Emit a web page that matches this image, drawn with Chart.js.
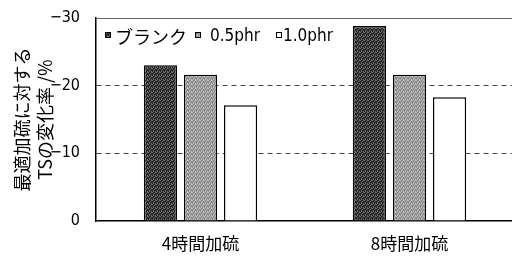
<!DOCTYPE html>
<html><head><meta charset="utf-8">
<script src="https://cdn.jsdelivr.net/npm/chart.js@4"></script>
<style>html,body{margin:0;padding:0;background:#fff;overflow:hidden;width:512px;height:259px}
#wrap{width:516px;height:259px;position:relative}</style>
</head><body><div id="wrap"><canvas id="c" width="516" height="259"></canvas></div>
<script>
const categories = ['4時間加硫', '8時間加硫'];
const seriesNames = ['ブランク', '0.5phr', '1.0phr'];
const blank = [-23.0, -28.8];
const phr05 = [-21.6, -21.6];
const phr10 = [-17.1, -18.3];
const yTickValues = [0, -10, -20, -30];
const yTickLabels = ['0', '−10', '−20', '−30'];
const yTitle = ['最適加硫に対する', 'TSの変化率 /%'];

const jp = "'Noto Sans CJK JP', 'DejaVu Sans', sans-serif";
const narrow = "'Liberation Sans Narrow', 'DejaVu Sans Condensed', sans-serif";

// fixed 4x4 halftone-like texture (style only)
function texture(a, b) {
  const cv = document.createElement('canvas');
  cv.width = 4; cv.height = 4;
  const g = cv.getContext('2d');
  g.fillStyle = a; g.fillRect(0, 0, 4, 4);
  g.fillStyle = b;
  [[0,0],[2,1],[1,2],[3,3],[3,0],[1,3]].forEach(p => g.fillRect(p[0], p[1], 1, 1));
  return g.createPattern(cv, 'repeat');
}
const fills = [texture('#262626', '#6a6a6a'), texture('#8c8c8c', '#c0c0c0'), '#ffffff'];

const labelFor = v => {
  const i = yTickValues.findIndex(t => Math.abs(t - v) < 1e-6);
  return i >= 0 ? yTickLabels[i] : '';
};

const legendPlugin = {
  id: 'inlegend',
  afterDraw(chart) {
    const ctx = chart.ctx;
    const y = 37;
    const pos = [[105, 115, '18px ' + jp], [195, 210, '17px ' + narrow], [276, 283, '17px ' + narrow]];
    ctx.save();
    chart.data.datasets.forEach((ds, i) => {
      const [bx, tx, f] = pos[i];
      ctx.fillStyle = ds.backgroundColor;
      ctx.fillRect(bx, y - 5, 6, 6);
      ctx.strokeStyle = '#000';
      ctx.lineWidth = 1;
      ctx.strokeRect(bx + 0.5, y - 4.5, 5, 5);
      ctx.fillStyle = '#000';
      ctx.font = f;
      ctx.textBaseline = 'middle';
      ctx.fillText(ds.label, tx, y);
    });
    const a = chart.chartArea;
    ctx.strokeStyle = '#666';
    ctx.lineWidth = 1;
    ctx.beginPath();
    ctx.moveTo(a.left, a.top + 0.5);
    ctx.lineTo(a.right, a.top + 0.5);
    ctx.stroke();
    ctx.restore();
  }
};

new Chart(document.getElementById('c'), {
  type: 'bar',
  data: {
    labels: categories,
    datasets: [blank, phr05, phr10].map((d, i) => ({
      label: seriesNames[i],
      data: d,
      backgroundColor: fills[i],
      borderColor: '#000',
      borderWidth: 1.5,
      borderSkipped: 'bottom',
      categoryPercentage: 0.575,
      barPercentage: 0.83
    }))
  },
  options: {
    responsive: false,
    animation: false,
    devicePixelRatio: 1,
    layout: {padding: {top: 18, right: 2, left: 0, bottom: 0}},
    plugins: {legend: {display: false}, tooltip: {enabled: false}},
    scales: {
      x: {
        grid: {display: false, drawTicks: false},
        border: {color: '#000', width: 1.5},
        ticks: {color: '#000', font: {family: jp, size: 17}, padding: 12},
        afterFit(s) { s.height = 38; s.paddingLeft = 0; s.paddingRight = 0; }
      },
      y: {
        reverse: true,
        min: -30, max: 0,
        afterBuildTicks(s) { s.ticks = yTickValues.map(v => ({value: v})); },
        ticks: {
          color: '#000', padding: 16,
          font: {family: "'DejaVu Sans Condensed', sans-serif", size: 16},
          callback: v => labelFor(v)
        },
        grid: {
          drawTicks: false,
          color: c => (c.tick && (c.tick.value === -10 || c.tick.value === -20)) ? '#444' : 'rgba(0,0,0,0)',
          lineWidth: 1
        },
        border: {color: '#000', width: 1.5, dash: [5, 4]},
        title: {display: true, text: yTitle, color: '#000', font: {family: jp, size: 18, lineHeight: 1.3}, padding: {top: 10, bottom: 0}},
        afterFit(s) { s.width = 96; s.paddingTop = 0; s.paddingBottom = 0; }
      }
    }
  },
  plugins: [legendPlugin]
});
</script></body></html>
